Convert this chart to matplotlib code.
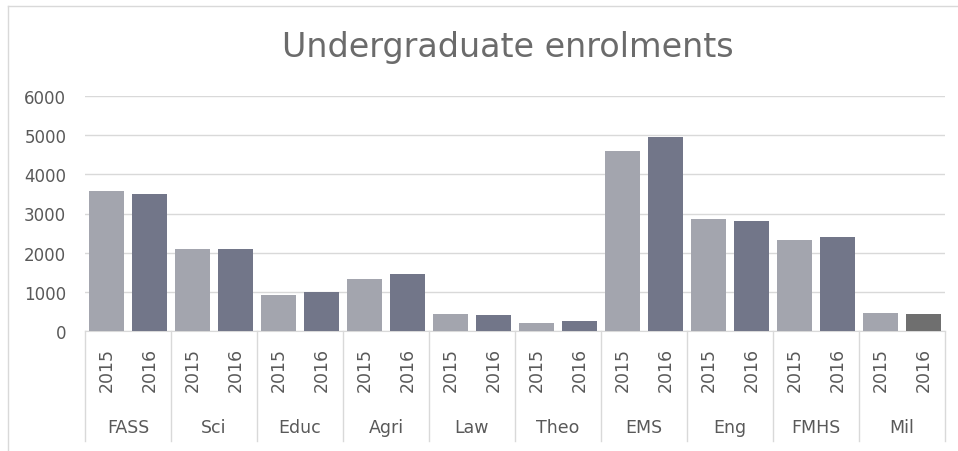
import numpy as np
import matplotlib
matplotlib.use("Agg")
import matplotlib.pyplot as plt
from matplotlib.lines import Line2D
from matplotlib.transforms import blended_transform_factory

plt.rcParams['font.family'] = ['DejaVu Sans']

faculties = ["FASS", "Sci", "Educ", "Agri", "Law", "Theo", "EMS", "Eng", "FMHS", "Mil"]
years = ["2015", "2016"]
enrol_2015 = [3580, 2100, 920, 1340, 430, 200, 4600, 2850, 2330, 460]
enrol_2016 = [3500, 2100, 990, 1460, 420, 245, 4950, 2820, 2390, 430]

c2015 = "#a3a5ae"
c2016 = "#727689"
c_mil = "#6f6f6f"
grid_c = "#d9d9d9"
txt_c = "#595959"

W, H = 958, 452
fig = plt.figure(figsize=(W / 100, H / 100), dpi=100)
ax = fig.add_axes([85 / W, (H - 332) / H, (945 - 85) / W, (332 - 97) / H])

n = len(faculties)
x15 = np.arange(n) * 2
x16 = x15 + 1
cols16 = [c2016] * (n - 1) + [c_mil]
ax.bar(x15, enrol_2015, width=0.81, color=c2015, zorder=3)
ax.bar(x16, enrol_2016, width=0.81, color=cols16, zorder=3)

ax.set_xlim(-0.5, 2 * n - 0.5)
ax.set_ylim(0, 6000)
ax.set_yticks(np.arange(0, 6001, 1000))
ax.yaxis.grid(True, color=grid_c, linewidth=1, zorder=0)
ax.tick_params(axis='y', length=0, pad=13.5, labelsize=12, labelcolor=txt_c)

xt = np.concatenate([x15, x16])
ax.set_xticks(xt)
ax.set_xticklabels([years[0]] * n + [years[1]] * n, rotation=90)
ax.tick_params(axis='x', length=0, pad=11.5, labelsize=12.5, labelcolor=txt_c)

for s in ["top", "right", "left"]:
    ax.spines[s].set_visible(False)
ax.spines["bottom"].set_color(grid_c)

trans = blended_transform_factory(ax.transData, ax.transAxes)
for i in range(n + 1):
    ax.plot([2 * i - 0.5, 2 * i - 0.5], [0, -0.468], color=grid_c, lw=1,
            transform=trans, clip_on=False)
for i, f in enumerate(faculties):
    ax.text(2 * i + 0.5, -0.409, f, transform=trans, ha='center', va='center',
            fontsize=12.5, color=txt_c)

fig.text(508 / W, 1 - 47 / H, "Undergraduate enrolments", ha='center', va='center',
         fontsize=24, color="#6b6b6b")

# chart area border (cropped on right and bottom)
fig.add_artist(Line2D([7.5 / W, 7.5 / W], [0, 1 - 6.5 / H], color=grid_c, lw=1))
fig.add_artist(Line2D([7.5 / W, 1], [1 - 6.5 / H, 1 - 6.5 / H], color=grid_c, lw=1))

fig.savefig("out.png", dpi=100, facecolor="white")
